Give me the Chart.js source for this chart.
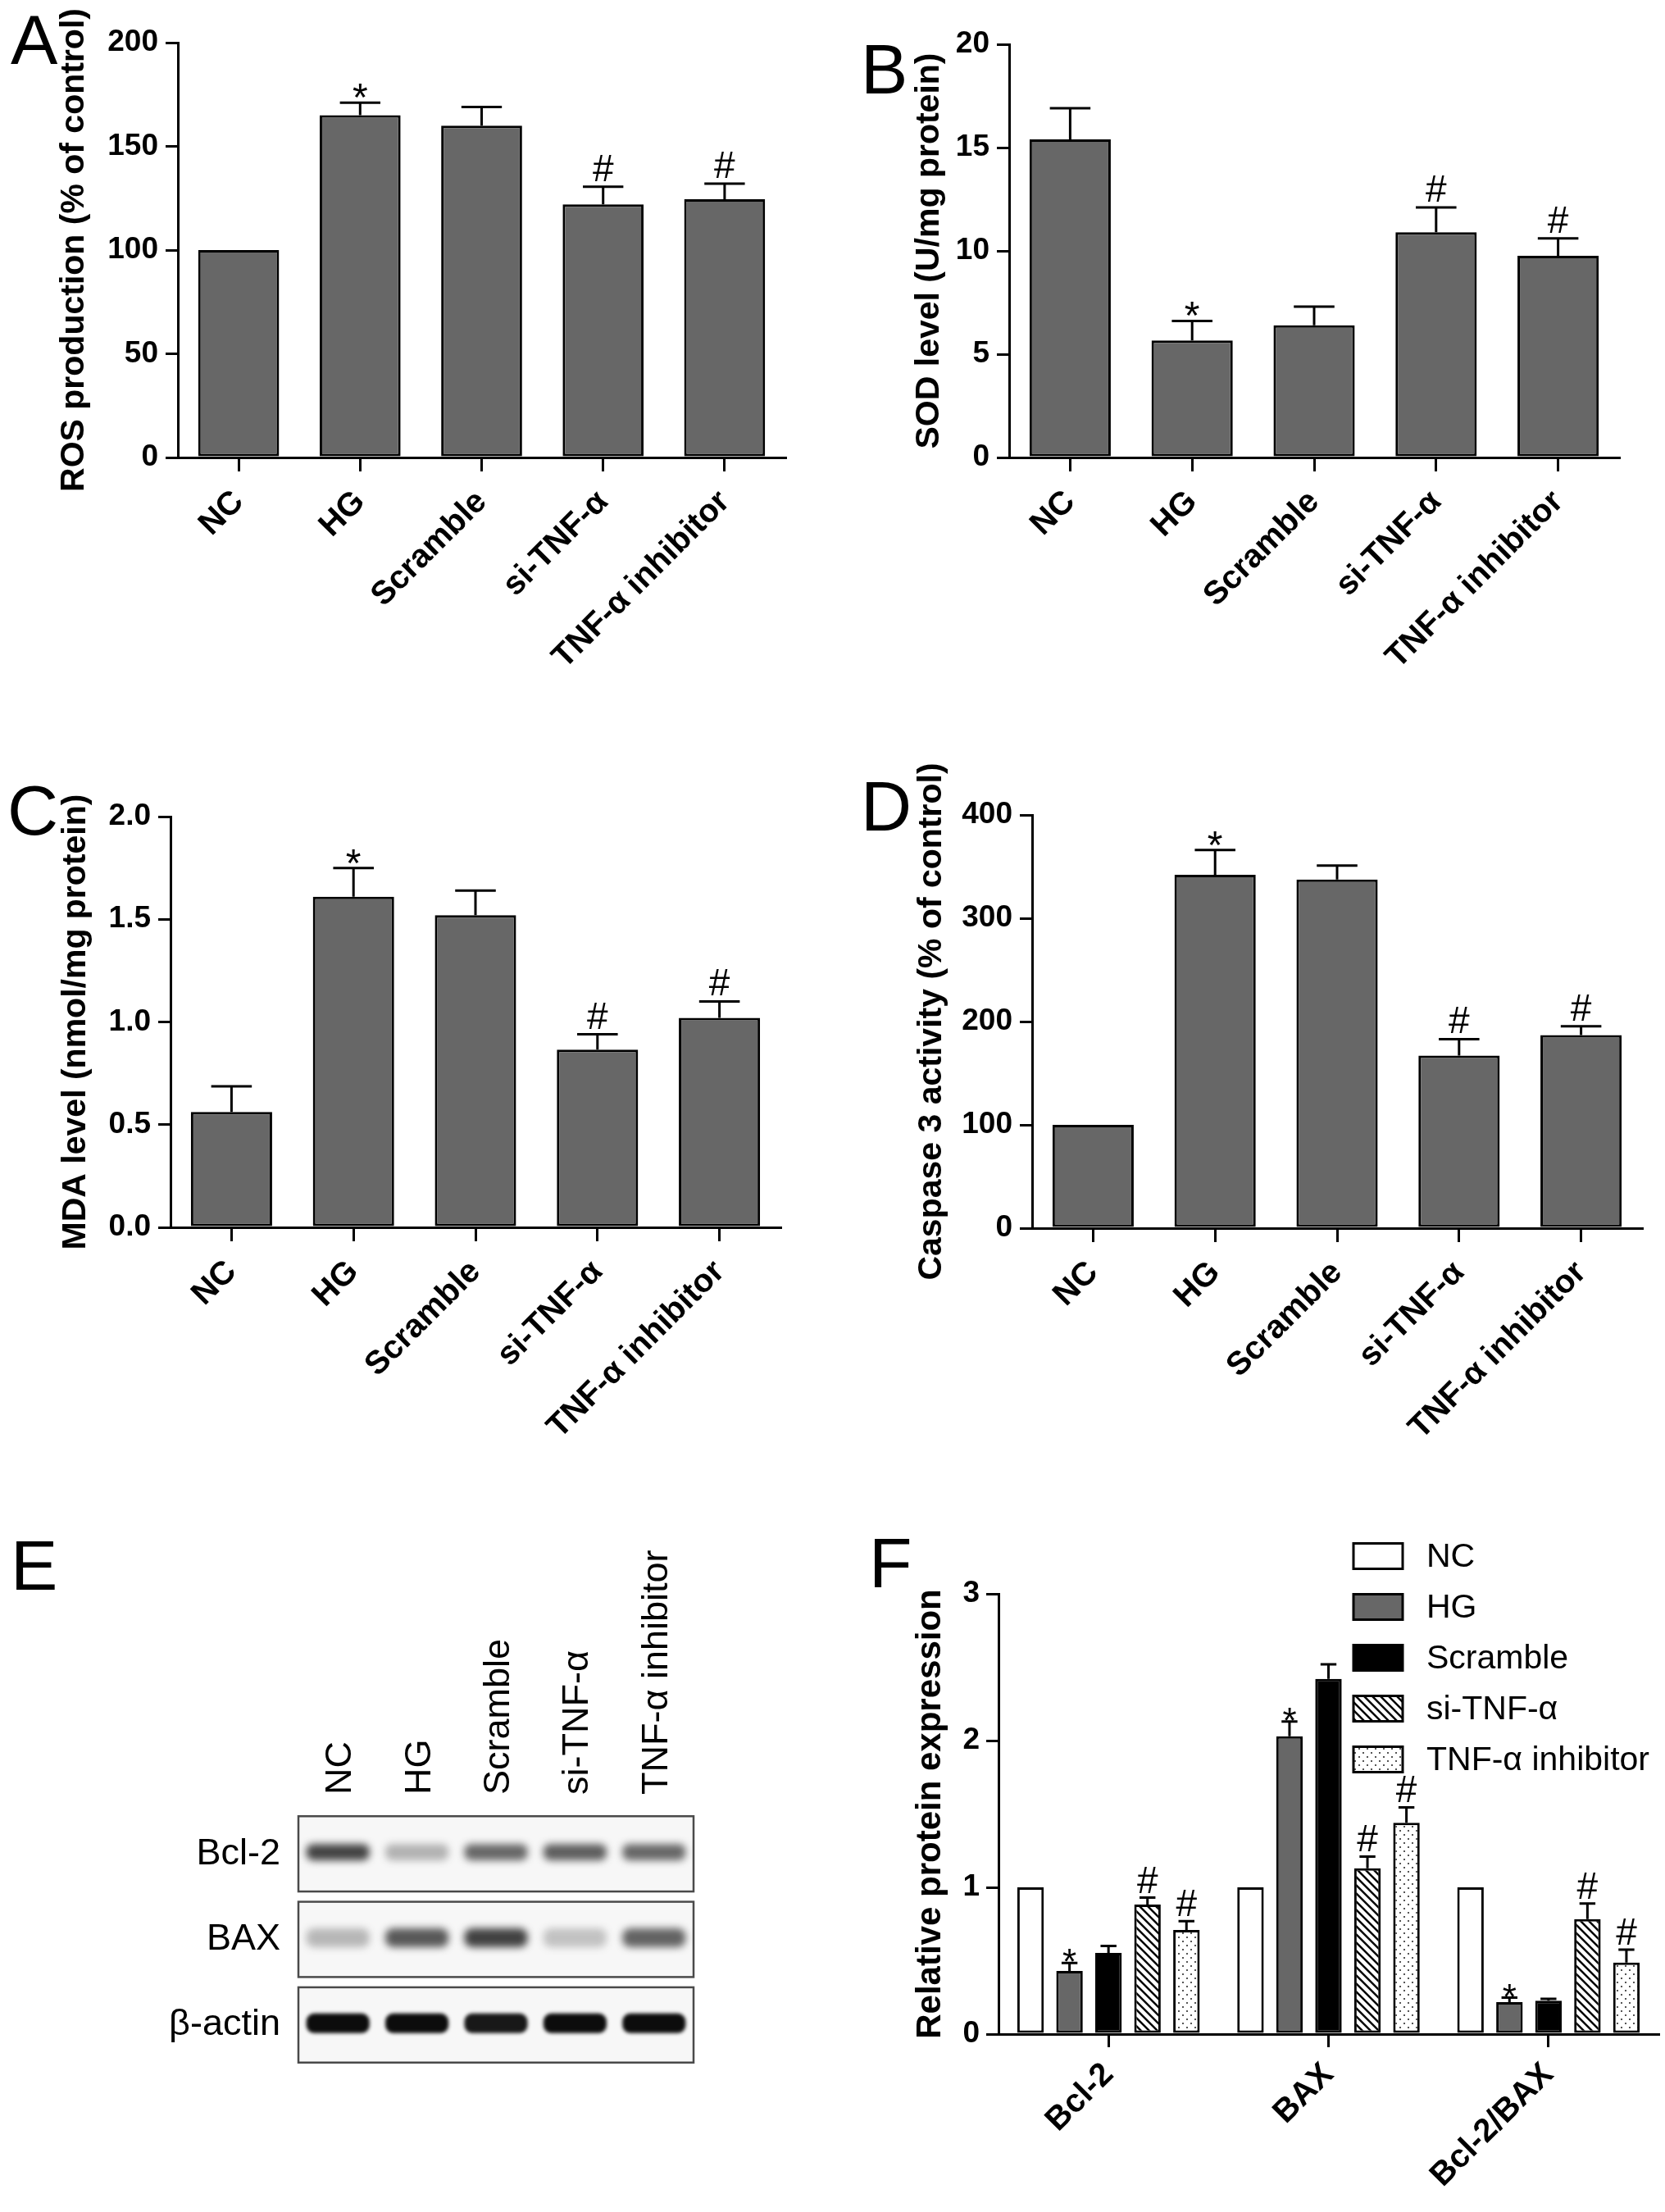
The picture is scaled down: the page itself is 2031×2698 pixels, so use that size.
<!DOCTYPE html>
<html>
<head>
<meta charset="utf-8">
<script src="https://cdn.jsdelivr.net/npm/chart.js@4.4.1/dist/chart.umd.min.js"></script>
<style>
  html, body { margin: 0; padding: 0; background: #fff; }
  body { position: relative; width: 2031px; height: 2698px; overflow: hidden;
         font-family: "Liberation Sans", Arial, sans-serif; }
  canvas { position: absolute; }
  .tag { position: absolute; font-size: 86px; line-height: 1; color: #000; }
</style>
</head>
<body>
<div class="tag" style="left:13px;top:5px">A</div>
<div class="tag" style="left:1050px;top:41px">B</div>
<div class="tag" style="left:9px;top:945px">C</div>
<div class="tag" style="left:1050px;top:940px">D</div>
<div class="tag" style="left:13px;top:1866px">E</div>
<div class="tag" style="left:1060px;top:1863px">F</div>

<canvas id="chartA" width="1015" height="940" style="left:0;top:0"></canvas>
<canvas id="chartB" width="1016" height="940" style="left:1015px;top:0"></canvas>
<canvas id="chartC" width="1015" height="890" style="left:0;top:940px"></canvas>
<canvas id="chartD" width="1016" height="930" style="left:1015px;top:900px"></canvas>
<canvas id="chartE" width="1015" height="868" style="left:0;top:1830px"></canvas>
<canvas id="chartF" width="1016" height="868" style="left:1015px;top:1830px"></canvas>

<script>
var FONT = '"Liberation Sans", Arial, sans-serif';
Chart.defaults.font.family = FONT;
Chart.defaults.color = '#000';

// groups shared by panels A-E
var groups = ['NC', 'HG', 'Scramble', 'si-TNF-α', 'TNF-α inhibitor'];

// A - ROS production (% of control)
var rosMean = [100, 165, 160, 122, 124.5];
var rosSem = [0, 6, 9, 8.5, 7.5];
var rosMarks = ['', '*', '', '#', '#'];
var rosTicks = [0, 50, 100, 150, 200];

// B - SOD level (U/mg protein)
var sodMean = [15.4, 5.66, 6.4, 10.9, 9.76];
var sodSem = [1.5, 0.95, 0.9, 1.2, 0.85];
var sodMarks = ['', '*', '', '#', '#'];
var sodTicks = [0, 5, 10, 15, 20];

// C - MDA level (nmol/mg protein)
var mdaMean = [0.562, 1.61, 1.52, 0.865, 1.02];
var mdaSem = [0.125, 0.14, 0.12, 0.075, 0.08];
var mdaMarks = ['', '*', '', '#', '#'];
var mdaTicks = [0, 0.5, 1.0, 1.5, 2.0];

// D - Caspase 3 activity (% of control)
var casMean = [100, 342, 337.5, 167, 187];
var casSem = [0, 24, 13.5, 16, 8.5];
var casMarks = ['', '*', '', '#', '#'];
var casTicks = [0, 100, 200, 300, 400];

// E - western blot, band strength per lane (0..1)
var blotRows = ['Bcl-2', 'BAX', 'β-actin'];
var bandBcl2 = [0.85, 0.32, 0.68, 0.72, 0.68];
var bandBax = [0.3, 0.75, 0.86, 0.25, 0.7];
var bandActin = [1, 1, 0.95, 1, 1];

// F - relative protein expression
var proteins = ['Bcl-2', 'BAX', 'Bcl-2/BAX'];
var fNC = [1, 1, 1];
var fHG = [0.43, 2.03, 0.218];
var fScramble = [0.553, 2.42, 0.227];
var fSi = [0.883, 1.13, 0.783];
var fInh = [0.709, 1.44, 0.488];
var fNCsem = [0, 0, 0];
var fHGsem = [0.055, 0.1, 0.03];
var fScrambleSem = [0.047, 0.1, 0.013];
var fSiSem = [0.047, 0.08, 0.107];
var fInhSem = [0.06, 0.105, 0.087];
var fHGmarks = ['*', '*', '*'];
var fSiMarks = ['#', '#', '#'];
var fInhMarks = ['#', '#', '#'];
var fTicks = [0, 1, 2, 3];

// error bars (upper only) and * / # marks over the bars
var errorMarks = {
  id: 'errorMarks',
  afterDatasetsDraw: function (chart, args, opts) {
    var ctx = chart.ctx, y = chart.scales.y;
    chart.data.datasets.forEach(function (ds, d) {
      var meta = chart.getDatasetMeta(d);
      var errs = opts.errors[d], marks = opts.marks[d];
      meta.data.forEach(function (bar, i) {
        var top = y.getPixelForValue(ds.data[i] + errs[i]);
        ctx.save();
        ctx.strokeStyle = '#000';
        ctx.lineWidth = 3;
        if (errs[i] > 0) {
          var half = bar.width * opts.cap / 2;
          ctx.beginPath();
          ctx.moveTo(bar.x, bar.y);
          ctx.lineTo(bar.x, top);
          ctx.moveTo(bar.x - half, top);
          ctx.lineTo(bar.x + half, top);
          ctx.stroke();
        }
        if (marks[i]) {
          ctx.fillStyle = '#000';
          ctx.textAlign = 'center';
          ctx.textBaseline = 'alphabetic';
          if (marks[i] === '*') {
            ctx.font = opts.starSize + 'px ' + FONT;
            ctx.fillText('*', bar.x, top + opts.starShift);
          } else {
            ctx.font = opts.hashSize + 'px ' + FONT;
            ctx.fillText('#', bar.x, top - opts.hashGap);
          }
        }
        ctx.restore();
      });
    });
  }
};

function axisGrid(len) {
  return { display: true, drawOnChartArea: false, drawTicks: true, offset: false,
           tickLength: len, lineWidth: 3, color: '#000' };
}

function barPanel(id, box, mean, sem, marks, ticks, title, decimals) {
  var canvas = document.getElementById(id);
  return new Chart(canvas, {
    type: 'bar',
    data: {
      labels: groups,
      datasets: [{
        data: mean,
        backgroundColor: '#676767',
        borderColor: '#000',
        borderWidth: 3,
        borderSkipped: false,
        barPercentage: 0.666,
        categoryPercentage: 1
      }]
    },
    options: {
      responsive: false,
      animation: false,
      layout: { padding: { left: 0, top: box.top, right: canvas.width - box.right, bottom: 0 } },
      plugins: {
        legend: { display: false },
        tooltip: { enabled: false },
        errorMarks: { errors: [sem], marks: [marks], cap: 0.5,
                      starSize: 48, starShift: 10, hashSize: 46, hashGap: 7 }
      },
      scales: {
        x: {
          grid: axisGrid(17),
          border: { display: true, color: '#000', width: 3 },
          ticks: { color: '#000', font: { size: 40, weight: 'bold' },
                   minRotation: 45, maxRotation: 45, autoSkip: false, padding: 14 },
          afterFit: function (s) { s.height = canvas.height - box.bottom; }
        },
        y: {
          min: ticks[0],
          max: ticks[ticks.length - 1],
          afterBuildTicks: function (s) { s.ticks = ticks.map(function (v) { return { value: v }; }); },
          grid: axisGrid(15),
          border: { display: true, color: '#000', width: 3 },
          ticks: { color: '#000', font: { size: 37, weight: 'bold' }, padding: 9,
                   callback: function (v) { return Number(v).toFixed(decimals); } },
          title: { display: true, text: title, color: '#000',
                   font: { size: 41, weight: 'bold' }, padding: { top: box.title - 24.6, bottom: 0 } },
          afterFit: function (s) { s.width = box.left; }
        }
      }
    },
    plugins: [errorMarks]
  });
}

barPanel('chartA', { left: 217, right: 958, top: 52, bottom: 558, title: 91 },
  rosMean, rosSem, rosMarks, rosTicks, 'ROS production (% of control)', 0);
barPanel('chartB', { left: 216, right: 960, top: 54, bottom: 558, title: 119 },
  sodMean, sodSem, sodMarks, sodTicks, 'SOD level (U/mg protein)', 0);
barPanel('chartC', { left: 208, right: 952, top: 56, bottom: 557, title: 93 },
  mdaMean, mdaSem, mdaMarks, mdaTicks, 'MDA level (nmol/mg protein)', 1);
barPanel('chartD', { left: 244, right: 988, top: 94, bottom: 598, title: 122 },
  casMean, casSem, casMarks, casTicks, 'Caspase 3 activity (% of control)', 0);

// E - blot drawn at the points of a category x category scatter
var blotBands = {
  id: 'blotBands',
  beforeDatasetsDraw: function (chart, args, opts) {
    var ctx = chart.ctx, area = chart.chartArea, ys = chart.scales.y, xs = chart.scales.x;
    var slot = ys.height / blotRows.length;
    var lane = xs.width / groups.length;
    chart.data.datasets.forEach(function (ds, r) {
      var meta = chart.getDatasetMeta(r);
      var yc = meta.data[0].y;
      var bh = slot * 0.88;
      ctx.save();
      ctx.fillStyle = '#f7f7f7';
      ctx.fillRect(area.left, yc - bh / 2, area.right - area.left, bh);
      meta.data.forEach(function (pt, i) {
        var a = ds.strength[i];
        var w = lane * 0.8, h = opts.heights[r];
        ctx.save();
        ctx.filter = 'blur(' + opts.blur[r] + 'px)';
        ctx.fillStyle = 'rgba(' + opts.tone[r] + ',' + a + ')';
        ctx.beginPath();
        if (ctx.roundRect) ctx.roundRect(pt.x - w / 2, pt.y - 2 - h / 2, w, h, h / 2.5);
        else ctx.rect(pt.x - w / 2, pt.y - 2 - h / 2, w, h);
        ctx.fill();
        ctx.restore();
      });
      ctx.strokeStyle = '#4a4a4a';
      ctx.lineWidth = 2.5;
      ctx.strokeRect(area.left, yc - bh / 2, area.right - area.left, bh);
      ctx.restore();
    });
    // lane names, written upwards above the blot
    ctx.save();
    ctx.fillStyle = '#000';
    ctx.font = '45px ' + FONT;
    ctx.textAlign = 'left';
    ctx.textBaseline = 'alphabetic';
    groups.forEach(function (g, i) {
      var x = xs.getPixelForValue(i);
      ctx.save();
      ctx.translate(x + 16, area.top - 20);
      ctx.rotate(-Math.PI / 2);
      ctx.fillText(g, 0, 0);
      ctx.restore();
    });
    ctx.restore();
  }
};

function blotSet(row, strength) {
  return {
    data: groups.map(function (g) { return { x: g, y: row }; }),
    strength: strength,
    pointRadius: 0
  };
}

new Chart(document.getElementById('chartE'), {
  type: 'scatter',
  data: { datasets: [blotSet('Bcl-2', bandBcl2), blotSet('BAX', bandBax), blotSet('β-actin', bandActin)] },
  options: {
    responsive: false,
    animation: false,
    layout: { padding: { left: 0, top: 379, right: 1015 - 846, bottom: 868 - 692 } },
    plugins: {
      legend: { display: false },
      tooltip: { enabled: false },
      blotBands: { heights: [20, 23, 24], blur: [5, 5, 2], tone: ['35,35,35', '35,35,35', '12,12,12'] }
    },
    scales: {
      x: { type: 'category', labels: groups, offset: true, display: false },
      y: {
        type: 'category', labels: blotRows, offset: true,
        grid: { display: false, drawTicks: false },
        border: { display: false },
        ticks: { color: '#000', font: { size: 45 }, padding: 22 },
        afterFit: function (s) { s.width = 364; }
      }
    }
  },
  plugins: [blotBands]
});

// F - fill patterns
function hatchPattern() {
  var c = document.createElement('canvas');
  c.width = 10; c.height = 10;
  var g = c.getContext('2d');
  g.fillStyle = '#fff';
  g.fillRect(0, 0, 10, 10);
  g.strokeStyle = '#000';
  g.lineWidth = 2.5;
  g.beginPath();
  g.moveTo(-2, -2); g.lineTo(12, 12);
  g.moveTo(-2, 8); g.lineTo(2, 12);
  g.moveTo(8, -2); g.lineTo(12, 2);
  g.stroke();
  return g.createPattern(c, 'repeat');
}
function dotPattern() {
  var c = document.createElement('canvas');
  c.width = 10; c.height = 10;
  var g = c.getContext('2d');
  g.fillStyle = '#fff';
  g.fillRect(0, 0, 10, 10);
  g.fillStyle = '#555';
  g.fillRect(2, 2, 2, 2);
  g.fillRect(7, 7, 2, 2);
  return g.createPattern(c, 'repeat');
}

var boxLegend = {
  id: 'boxLegend',
  afterDraw: function (chart, args, opts) {
    var ctx = chart.ctx;
    chart.data.datasets.forEach(function (ds, i) {
      var y = opts.top + i * opts.step;
      ctx.save();
      ctx.fillStyle = ds.backgroundColor;
      ctx.fillRect(opts.x, y - opts.h / 2, opts.w, opts.h);
      ctx.lineWidth = 3;
      ctx.strokeStyle = '#000';
      ctx.strokeRect(opts.x, y - opts.h / 2, opts.w, opts.h);
      ctx.fillStyle = '#000';
      ctx.font = '41px ' + FONT;
      ctx.textBaseline = 'middle';
      ctx.fillText(ds.label, opts.x + opts.w + 29, y + 2);
      ctx.restore();
    });
  }
};

function fSet(label, data, fill) {
  return { label: label, data: data, backgroundColor: fill, borderColor: '#000',
           borderWidth: 3, borderSkipped: false, barPercentage: 0.68, categoryPercentage: 0.886 };
}

new Chart(document.getElementById('chartF'), {
  type: 'bar',
  data: {
    labels: proteins,
    datasets: [
      fSet(groups[0], fNC, '#ffffff'),
      fSet(groups[1], fHG, '#676767'),
      fSet(groups[2], fScramble, '#000000'),
      fSet(groups[3], fSi, hatchPattern()),
      fSet(groups[4], fInh, dotPattern())
    ]
  },
  options: {
    responsive: false,
    animation: false,
    layout: { padding: { left: 0, top: 114, right: 8, bottom: 0 } },
    plugins: {
      legend: { display: false },
      tooltip: { enabled: false },
      errorMarks: {
        errors: [fNCsem, fHGsem, fScrambleSem, fSiSem, fInhSem],
        marks: [['', '', ''], fHGmarks, ['', '', ''], fSiMarks, fInhMarks],
        cap: 0.6, starSize: 44, starShift: 14, hashSize: 46, hashGap: 6
      },
      boxLegend: { x: 636, w: 60, h: 31, top: 68, step: 62 }
    },
    scales: {
      x: {
        grid: axisGrid(16),
        border: { display: true, color: '#000', width: 3 },
        ticks: { color: '#000', font: { size: 40, weight: 'bold' },
                 minRotation: 45, maxRotation: 45, autoSkip: false, padding: 10 },
        afterFit: function (s) { s.height = 217; }
      },
      y: {
        min: fTicks[0],
        max: fTicks[fTicks.length - 1],
        afterBuildTicks: function (s) { s.ticks = fTicks.map(function (v) { return { value: v }; }); },
        grid: axisGrid(15),
        border: { display: true, color: '#000', width: 3 },
        ticks: { color: '#000', font: { size: 37, weight: 'bold' }, padding: 8 },
        title: { display: true, text: 'Relative protein expression', color: '#000',
                 font: { size: 42, weight: 'bold' }, padding: { top: 95, bottom: 0 } },
        afterFit: function (s) { s.width = 203; }
      }
    }
  },
  plugins: [errorMarks, boxLegend]
});
</script>
</body>
</html>
